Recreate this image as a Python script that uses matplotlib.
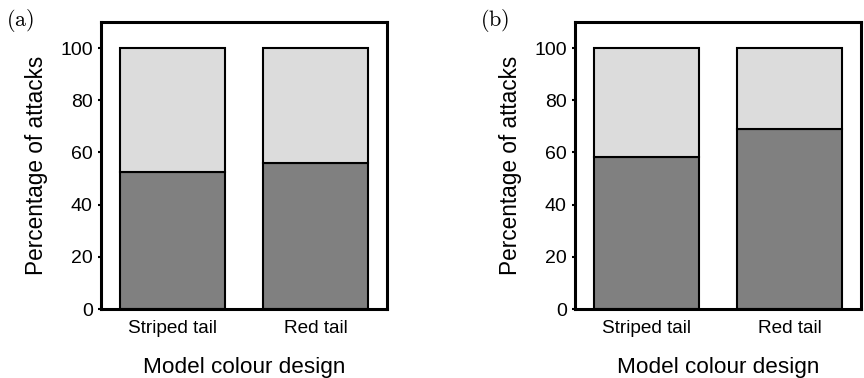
import matplotlib
matplotlib.use("Agg")
import matplotlib.pyplot as plt

categories = ["Striped tail", "Red tail"]
attacked_a = [52.6, 56.1]
attacked_b = [58.1, 69.1]
total = [100, 100]
panel_labels = ["(a)", "(b)"]
yticks = [0, 20, 40, 60, 80, 100]

plt.rcParams['font.family'] = ['Liberation Sans', 'DejaVu Sans']
plt.rcParams['mathtext.fontset'] = 'cm'

fig = plt.figure(figsize=(8.64, 3.78), dpi=100)
W, H = 864, 378
boxes = [(101, 22, 387, 309), (575, 22, 861, 309)]
dark = "#808080"
light = "#dcdcdc"

for (x0, y0, x1, y1), vals, lab in zip(boxes, [attacked_a, attacked_b], panel_labels):
    ax = fig.add_axes([x0 / W, 1 - y1 / H, (x1 - x0) / W, (y1 - y0) / H])
    xs = range(len(categories))
    rest = [t - v for t, v in zip(total, vals)]
    ax.bar(xs, vals, width=0.74, color=dark, edgecolor="black", linewidth=1.5, zorder=2)
    ax.bar(xs, rest, bottom=vals, width=0.74, color=light, edgecolor="black", linewidth=1.5, zorder=2)
    ax.set_xlim(-0.5, 1.5)
    ax.set_ylim(0, 110)
    ax.set_yticks(yticks)
    ax.set_xticks(list(xs))
    ax.set_xticklabels(categories, fontsize=13.7)
    ax.tick_params(axis='x', length=0, pad=8)
    ax.tick_params(axis='y', length=2, width=1.5, direction='out', labelsize=14, pad=4)
    for s in ax.spines.values():
        s.set_linewidth(2.2)
    ax.set_ylabel("Percentage of attacks", fontsize=16.3, va='center')
    ax.yaxis.set_label_coords(-0.225, 0.5)
    ax.set_xlabel("Model colour design", fontsize=16.2, va='baseline')
    ax.xaxis.set_label_coords(0.5, (309 - 373) / 287)
    fig.text((x0 - 95) / W, 1 - 21 / H, r"$\mathrm{" + lab + "}$", fontsize=16,
             ha="left", va="center")

fig.savefig("out.png", dpi=100)
